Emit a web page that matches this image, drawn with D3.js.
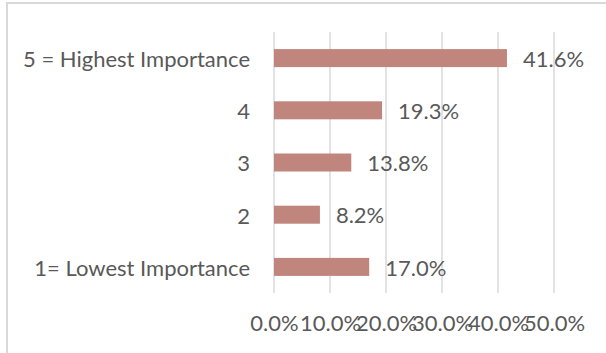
<!DOCTYPE html>
<html>
<head>
<meta charset="utf-8">
<script src="https://cdn.jsdelivr.net/npm/d3@7"></script>
<style>
  html, body { margin: 0; padding: 0; background: #fff; }
  svg { display: block; }
  text { font-family: Lato, "Open Sans", sans-serif; fill: #595959; }
</style>
</head>
<body>
<svg id="chart" width="606" height="353"></svg>
<script>
// Share of respondents by importance rating
const categories = ["5 = Highest Importance", "4", "3", "2", "1= Lowest Importance"];
const shares = [41.6, 19.3, 13.8, 8.2, 17.0];
const tickValues = [0, 10, 20, 30, 40, 50];

const svg = d3.select("#chart");
const plot = { left: 274, right: 554, top: 32, bottom: 293 };
const fontSize = 22;

// chart frame
svg.append("rect")
  .attr("x", 7).attr("y", 3)
  .attr("width", 720).attr("height", 420)
  .attr("fill", "#fff")
  .attr("stroke", "#d9d9d9")
  .attr("stroke-width", 2);

const x = d3.scaleLinear().domain([0, 50]).range([plot.left, plot.right]);
const y = d3.scaleBand()
  .domain(categories)
  .range([plot.top, plot.bottom])
  .paddingInner(0.655)
  .paddingOuter(0.3275);

// vertical gridlines
svg.append("g")
  .selectAll("line")
  .data(tickValues)
  .join("line")
  .attr("x1", d => x(d)).attr("x2", d => x(d))
  .attr("y1", plot.top).attr("y2", plot.bottom)
  .attr("stroke", "#d9d9d9")
  .attr("stroke-width", 1.5);

// bars
const rows = categories.map((c, i) => ({ cat: c, v: shares[i] }));
svg.append("g")
  .selectAll("rect")
  .data(rows)
  .join("rect")
  .attr("x", x(0))
  .attr("y", d => y(d.cat))
  .attr("width", d => x(d.v) - x(0))
  .attr("height", y.bandwidth())
  .attr("fill", "#c0857d");

// value labels
svg.append("g")
  .selectAll("text")
  .data(rows)
  .join("text")
  .attr("x", d => x(d.v) + 16)
  .attr("y", d => y(d.cat) + y.bandwidth() / 2 + 1)
  .attr("dy", "0.35em")
  .attr("font-size", fontSize)
  .text(d => d.v.toFixed(1) + "%");

// category axis
const yAxis = svg.append("g")
  .attr("transform", `translate(${plot.left},0)`)
  .call(d3.axisLeft(y).tickSize(0).tickPadding(24));
yAxis.select(".domain").remove();
yAxis.selectAll("text")
  .attr("font-size", fontSize)
  .attr("font-family", "Lato, 'Open Sans', sans-serif")
  .attr("fill", "#595959")
  .attr("dy", "0.4em");

// value axis
const xAxis = svg.append("g")
  .attr("transform", `translate(0,${plot.bottom})`)
  .call(d3.axisBottom(x).tickValues(tickValues).tickSize(0).tickPadding(22)
    .tickFormat(d => d.toFixed(1) + "%"));
xAxis.select(".domain").remove();
xAxis.selectAll("text")
  .attr("font-size", fontSize)
  .attr("font-family", "Lato, 'Open Sans', sans-serif")
  .attr("fill", "#595959");
</script>
</body>
</html>
